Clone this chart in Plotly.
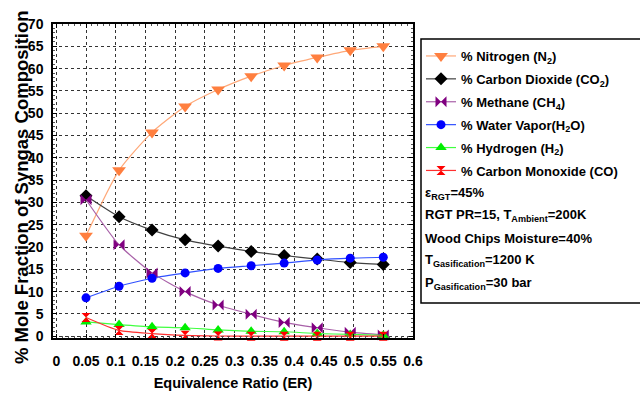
import plotly.graph_objects as go

er = [0.05, 0.1056, 0.1611, 0.2167, 0.2722, 0.3278, 0.3833, 0.4389, 0.4944, 0.55]
n2 = [22.5, 37.2, 45.7, 51.5, 55.3, 58.3, 60.7, 62.5, 64.1, 65.0]
co2 = [31.5, 26.8, 23.8, 21.6, 20.2, 19.0, 18.1, 17.3, 16.5, 16.1]
ch4 = [30.6, 20.5, 14.2, 10.0, 7.0, 4.9, 3.1, 1.9, 0.9, 0.3]
h2o = [8.6, 11.2, 13.0, 14.2, 15.2, 15.8, 16.4, 17.1, 17.5, 17.7]
h2 = [3.2, 2.6, 2.1, 1.9, 1.4, 1.1, 1.0, 0.6, 0.4, 0.2]
co = [4.2, 1.3, 0.6, 0.2, 0.05, 0.02, 0.01, 0.0, 0.0, 0.0]

x_ticks = [0, 0.05, 0.1, 0.15, 0.2, 0.25, 0.3, 0.35, 0.4, 0.45, 0.5, 0.55, 0.6]
x_labels = ["0", "0.05", "0.1", "0.15", "0.2", "0.25", "0.3", "0.35", "0.4", "0.45", "0.5", "0.55", "0.6"]
y_ticks = list(range(0, 75, 5))

params = [
    "ε<sub>RGT</sub>=45%",
    "RGT PR=15, T<sub>Ambient</sub>=200K",
    "Wood Chips Moisture=40%",
    "T<sub>Gasification</sub>=1200 K",
    "P<sub>Gasification</sub>=30 bar",
]

FONT = "Liberation Sans, Arial, sans-serif"

series = [
    ("% Nitrogen (N<sub>2</sub>)", n2, "#FF7F3F", "#FFA878", "triangle-down", 12),
    ("% Carbon Dioxide (CO<sub>2</sub>)", co2, "#000000", "#404040", "diamond", 10),
    ("% Methane (CH<sub>4</sub>)", ch4, "#800080", "#A860A8", "bowtie", 11),
    ("% Water Vapor(H<sub>2</sub>O)", h2o, "#0000FF", "#3050FF", "circle", 9),
    ("% Hydrogen (H<sub>2</sub>)", h2, "#00EE00", "#40FF40", "triangle-up", 10),
    ("% Carbon Monoxide (CO)", co, "#FF0000", "#FF3030", "hourglass", 9),
]

fig = go.Figure()
for i, (name, ys, mc, lc, sym, sz) in enumerate(series):
    fig.add_trace(go.Scatter(
        x=er, y=ys, name=name, mode="lines+markers",
        line=dict(color=lc, width=1.2, shape="spline", smoothing=0.6),
        marker=dict(color=mc, symbol=sym, size=sz, line=dict(width=0)),
        legendgroup=f"g{i}", cliponaxis=False,
    ))

L, R, T, B = 53, 413, 24, 338
W, H = 640, 398

def px_x(p):
    return (p - L) / (R - L)

def px_y(p):
    return 1 - (p - T) / (B - T)

# legend box
fig.add_shape(type="rect", xref="paper", yref="paper",
              x0=px_x(421), x1=px_x(660), y0=px_y(303), y1=px_y(39),
              line=dict(color="#000000", width=1.5), fillcolor="white", layer="below")

for k, t in enumerate(params):
    fig.add_annotation(xref="paper", yref="paper", x=px_x(423), y=px_y(193 + k * 22.6),
                       xanchor="left", yanchor="middle", text=t, showarrow=False,
                       font=dict(family=FONT, size=13, color="black", weight=700))

# y-axis title placed as rotated text
fig.add_annotation(xref="paper", yref="paper", x=px_x(21), y=px_y(187),
                   xanchor="center", yanchor="middle", textangle=-90, showarrow=False,
                   text="% Mole Fraction of Syngas Composition",
                   font=dict(family=FONT, size=18.5, color="black", weight=700))

fig.update_layout(
    width=W, height=H,
    margin=dict(l=L, r=W - R, t=T, b=H - B, autoexpand=False),
    paper_bgcolor="white", plot_bgcolor="white",
    showlegend=True,
    legend=dict(x=px_x(421), y=px_y(41), xanchor="left", yanchor="top",
                bgcolor="rgba(0,0,0,0)", borderwidth=0,
                font=dict(family=FONT, size=13, color="black", weight=700),
                tracegroupgap=3, itemwidth=30),
    xaxis=dict(range=[-0.0055, 0.6], tickvals=x_ticks, ticktext=x_labels,
               showgrid=True, gridcolor="#333333", griddash="dot", gridwidth=1,
               showline=True, linecolor="black", linewidth=1.5, mirror="allticks",
               ticks="inside", ticklen=4, tickcolor="black",
               minor=dict(dtick=0.01, ticks="inside", ticklen=2, tickcolor="#555555", showgrid=False),
               zeroline=False, ticklabelstandoff=9,
               tickfont=dict(family=FONT, size=14, color="black", weight=700),
               title=dict(text="Equivalence Ratio (ER)", standoff=10,
                          font=dict(family=FONT, size=14.5, color="black", weight=700))),
    yaxis=dict(range=[-0.4, 70], tickvals=y_ticks,
               showgrid=True, gridcolor="#333333", griddash="dot", gridwidth=1,
               showline=True, linecolor="black", linewidth=1.5, mirror="allticks",
               ticks="inside", ticklen=4, tickcolor="black",
               minor=dict(dtick=1, ticks="inside", ticklen=2, tickcolor="#555555", showgrid=False),
               zeroline=False, ticklabelstandoff=5,
               tickfont=dict(family=FONT, size=14, color="black", weight=700)),
)

fig.write_html("out.html")
